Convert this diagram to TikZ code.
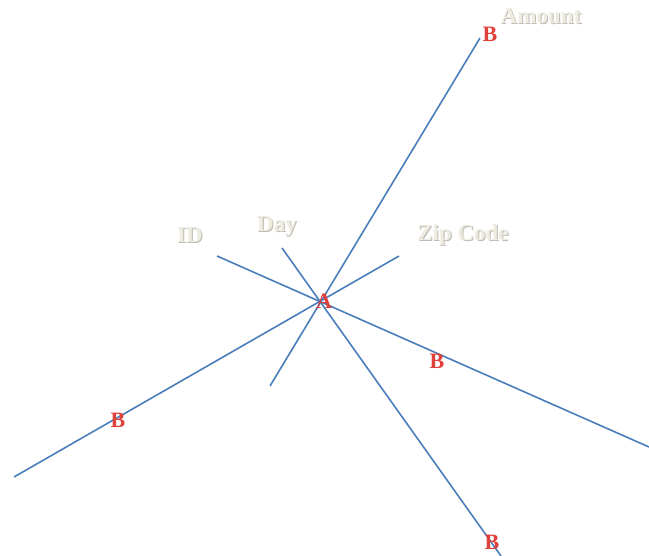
\documentclass[tikz,border=0pt]{standalone}
\usepackage{fontspec}
\setmainfont{Liberation Serif}
\definecolor{lineblue}{HTML}{4A7EBB}
\definecolor{ptred}{HTML}{E0403A}
\definecolor{labelbeige}{HTML}{EEECE1}
\definecolor{labelshadow}{HTML}{BDBBB2}
\begin{document}
\begin{tikzpicture}[x=1pt,y=-1pt,
  ray/.style={draw=lineblue,line width=1.6pt},
  ptlabel/.style={text=ptred,font=\fontsize{22}{22}\selectfont\bfseries,inner sep=0pt},
  fieldlabel/.style={text=labelbeige,font=\fontsize{23}{23}\selectfont\bfseries,inner sep=0pt},
  fieldshadow/.style={text=labelshadow,font=\fontsize{23}{23}\selectfont\bfseries,inner sep=0pt}]
\useasboundingbox (0,0) rectangle (649,556);
% line end points
\coordinate (amT) at (480,38);
\coordinate (amB) at (270,386);
\coordinate (idL) at (217,256);
\coordinate (idR) at (649,447);
\coordinate (dyT) at (282,248);
\coordinate (dyB) at (501,556);
\coordinate (zpT) at (399,256);
\coordinate (zpB) at (14,477);
\draw[ray] (amT) -- (amB);
\draw[ray] (idL) -- (idR);
\draw[ray] (dyT) -- (dyB);
\draw[ray] (zpT) -- (zpB);
% field labels with shadow
\node[fieldshadow] (amS) at (542,17) {Amount};
\node[fieldlabel] (am) at (541,16) {Amount};
\node[fieldshadow] (idS) at (191,236) {ID};
\node[fieldlabel] (id) at (190,235) {ID};
\node[fieldshadow] (dyS) at (278,227) {Day};
\node[fieldlabel] (dy) at (277,226) {Day};
\node[fieldshadow] (zpS) at (464,236) {Zip Code};
\node[fieldlabel] (zp) at (463,235) {Zip Code};
% points
\node[ptlabel] (A) at (324,301) {A};
\node[ptlabel] (B1) at (490,34) {B};
\node[ptlabel] (B2) at (437,361) {B};
\node[ptlabel] (B3) at (118,420) {B};
\node[ptlabel] (B4) at (492,542) {B};
\end{tikzpicture}
\end{document}
